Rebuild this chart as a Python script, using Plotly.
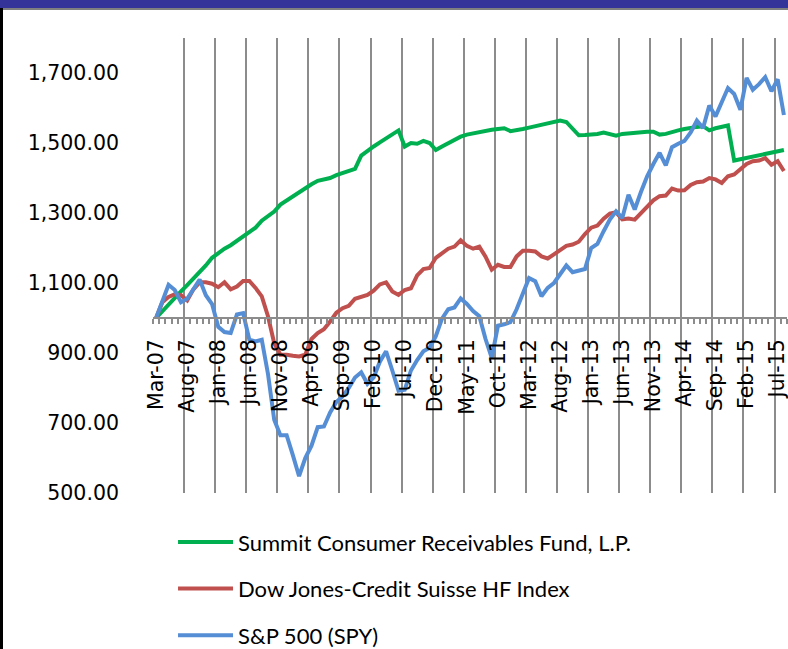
import pandas as pd
import plotly.graph_objects as go

# ── Data (indexed to 1,000 at Mar-07) ────────────────────────────────────────

months = list(pd.date_range("2007-03-01", "2015-08-01", freq="MS").strftime("%b-%y"))

summit = [
    1000, 1020, 1040, 1058, 1076, 1094, 1112, 1130, 1150, 1172,
    1186, 1198, 1208, 1220, 1232, 1246, 1258, 1278, 1292, 1304,
    1324, 1336, 1348, 1360, 1372, 1382, 1392, 1396, 1400, 1408,
    1414, 1422, 1426, 1464, 1478, 1490, 1502, 1514, 1526, 1536,
    1490, 1500, 1498, 1506, 1500, 1480, 1490, 1500, 1510, 1518,
    1524, 1528, 1530, 1534, 1538, 1540, 1542, 1534, 1536, 1540,
    1544, 1548, 1553, 1558, 1562, 1564, 1560, 1540, 1522, 1523,
    1524, 1526, 1530, 1526, 1521, 1526, 1528, 1530, 1531, 1532,
    1532, 1524, 1526, 1532, 1536, 1540, 1544, 1546, 1548, 1536,
    1542, 1546, 1550, 1450, 1454, 1457, 1461, 1464, 1468, 1472,
    1476, 1480,
]

dj_cs = [
    1000, 1045, 1060, 1068, 1065, 1050, 1082, 1102, 1102, 1098,
    1088, 1102, 1082, 1090, 1106, 1106, 1086, 1062, 1005, 928,
    895, 895, 892, 890, 895, 940, 957, 968, 990, 1015,
    1028, 1035, 1055, 1062, 1066, 1078, 1096, 1102, 1076, 1066,
    1080, 1085, 1122, 1140, 1143, 1172, 1186, 1198, 1204, 1222,
    1206, 1198, 1204, 1175, 1138, 1152, 1146, 1146, 1176, 1192,
    1192, 1190, 1176, 1170, 1182, 1194, 1206, 1210, 1218, 1240,
    1258, 1264, 1284, 1298, 1302, 1282, 1284, 1281, 1300, 1318,
    1336, 1348, 1350, 1370, 1364, 1365, 1380, 1388, 1390, 1400,
    1396, 1386, 1405, 1410, 1426, 1440, 1448, 1450, 1457, 1438,
    1448, 1420,
]

spy = [
    1000, 1045, 1095, 1080, 1045, 1055, 1085, 1110, 1065, 1040,
    975, 960, 957, 1010, 1014, 938, 933, 938, 840, 709,
    665, 665, 608, 548, 600, 635, 688, 690, 730, 760,
    776, 800, 830, 845, 812, 830, 875, 905, 850, 792,
    795, 850, 880, 905, 915, 948, 998, 1025, 1030, 1056,
    1040, 1020, 1005, 940, 886, 978, 982, 988, 1025, 1070,
    1114, 1105, 1062, 1086, 1100, 1125, 1150, 1131, 1136, 1140,
    1200, 1212, 1248, 1281, 1305, 1286, 1352, 1310, 1360, 1405,
    1440, 1472, 1436, 1488, 1498, 1506, 1530, 1564, 1543, 1607,
    1576, 1620, 1657, 1640, 1595, 1686, 1652, 1668, 1688, 1648,
    1682, 1580,
]

series = [
    ("Summit Consumer Receivables Fund, L.P.", summit, "#00B050"),
    ("Dow Jones-Credit Suisse HF Index", dj_cs, "#C0504D"),
    ("S&P 500 (SPY)", spy, "#558ED5"),
]

y_range = [500, 1800]
axis_cross = 1000

# ── Axis helpers ─────────────────────────────────────────────────────────────

idx = list(range(len(months)))
label_idx = idx[::5]
label_text = [months[i] for i in label_idx]
bounds = [i - 0.5 for i in range(len(months) + 1)]
grid_bounds = bounds[::5][:len(label_idx)]
x_range = [bounds[0], bounds[-1]]

GRID = "#8c8c8c"
TICK_FONT = dict(family="DejaVu Sans", size=20.5, color="#000000")

# ── Figure ───────────────────────────────────────────────────────────────────

fig = go.Figure()
for k, (name, vals, color) in enumerate(series):
    fig.add_trace(go.Scatter(
        x=idx, y=vals, name=name, mode="lines",
        line=dict(color=color, width=4),
        legendgroup=f"g{k}",
    ))

# invisible trace so the grid axis is drawn
fig.add_trace(go.Scatter(x=x_range, y=[None, None], xaxis="x2",
                         showlegend=False, hoverinfo="skip"))

fig.update_layout(
    width=788, height=649,
    paper_bgcolor="white", plot_bgcolor="white",
    margin=dict(l=153, r=1, t=38, b=156, autoexpand=False),
    xaxis=dict(
        range=x_range, automargin=False,
        anchor="free",
        position=(axis_cross - y_range[0]) / (y_range[1] - y_range[0]),
        tickmode="array", tickvals=label_idx, ticktext=label_text,
        tickangle=-90, tickfont=TICK_FONT, ticks="",
        ticklabelstandoff=12, ticklabeloverflow="allow",
        showgrid=False, zeroline=False,
        showline=True, linecolor=GRID, linewidth=2,
        minor=dict(tickvals=bounds, ticks="outside", ticklen=5,
                   tickcolor=GRID, tickwidth=1.5, showgrid=False),
    ),
    xaxis2=dict(
        range=x_range, overlaying="x", anchor="y", automargin=False,
        tickmode="array", tickvals=grid_bounds,
        showticklabels=False, ticks="",
        showgrid=True, gridcolor=GRID, gridwidth=1.5,
        zeroline=False, showline=False,
    ),
    yaxis=dict(
        range=y_range, automargin=False, tick0=500, dtick=200,
        tickformat=",.2f", tickfont=TICK_FONT,
        ticks="", ticklabelstandoff=33,
        showgrid=False, zeroline=False, showline=False,
    ),
    legend=dict(
        x=0.0316, y=-0.062, xanchor="left", yanchor="top",
        traceorder="grouped", tracegroupgap=15,
        font=dict(family="Lato", size=22, color="#000000"),
        itemwidth=55, bgcolor="rgba(0,0,0,0)",
    ),
    shapes=[
        # dark title band along the top
        dict(type="rect", xref="paper", yref="paper",
             x0=-153 / 634, x1=1.01, y0=(493 - 8) / 455, y1=493 / 455 + 0.01,
             fillcolor="#333399", line_width=0, layer="above"),
        dict(type="line", xref="paper", yref="paper",
             x0=-150 / 634, x1=1.01, y0=(493 - 9) / 455, y1=(493 - 9) / 455,
             line=dict(color="#7f7f7f", width=2)),
        # black frame edge on the left
        dict(type="rect", xref="paper", yref="paper",
             x0=-153 / 634, x1=-150 / 634, y0=-156 / 455 - 0.01, y1=(493 - 8) / 455,
             fillcolor="#000000", line_width=0),
    ],
    showlegend=True,
)

fig.write_html("out.html", config={"displayModeBar": False},
               post_script="document.body.style.margin='0';")
